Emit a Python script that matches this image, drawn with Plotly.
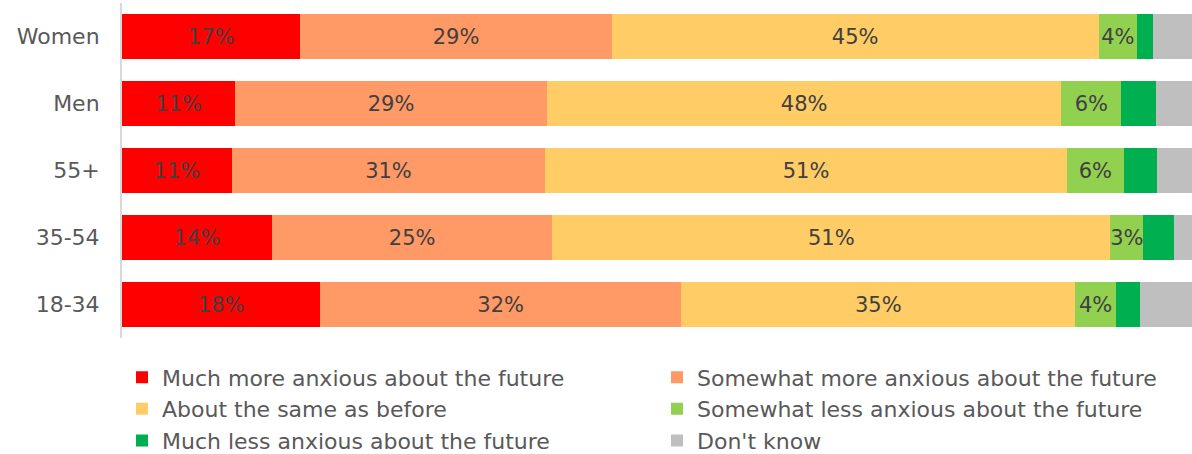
import plotly.graph_objects as go

categories = ["Women", "Men", "55+", "35-54", "18-34"]

series_names = [
    "Much more anxious about the future",
    "Somewhat more anxious about the future",
    "About the same as before",
    "Somewhat less anxious about the future",
    "Much less anxious about the future",
    "Don't know",
]

much_more = [16.6, 10.6, 10.8, 13.6, 17.7]
somewhat_more = [29.0, 29.1, 30.8, 25.4, 32.2]
same = [45.3, 48.1, 51.3, 50.6, 35.2]
somewhat_less = [3.6, 5.6, 5.6, 3.0, 3.6]
much_less = [1.5, 3.2, 3.3, 2.8, 2.2]
dont_know = [3.6, 3.4, 3.4, 1.6, 4.6]

series_values = [much_more, somewhat_more, same, somewhat_less, much_less, dont_know]
labelled = [True, True, True, True, False, False]
colors = ["#FF0000", "#FF9966", "#FFCC66", "#92D050", "#00B050", "#BFBFBF"]

FONT = "Century Gothic, DejaVu Sans, sans-serif"

fig = go.Figure()
for name, vals, col, lab in zip(series_names, series_values, colors, labelled):
    fig.add_trace(go.Bar(
        y=categories,
        x=vals,
        name=name,
        orientation="h",
        marker=dict(color=col, line=dict(width=0)),
        text=[f"{v:.0f}%" for v in vals] if lab else None,
        textposition="inside" if lab else "none",
        insidetextanchor="middle",
        textangle=0,
        constraintext="none",
        insidetextfont=dict(size=21, color="#404040", family=FONT),
        hoverinfo="skip",
    ))

fig.update_layout(
    width=1192,
    height=454,
    barmode="stack",
    barnorm="percent",
    bargap=0.328,
    margin=dict(l=122, r=0, t=3, b=116, autoexpand=False),
    paper_bgcolor="white",
    plot_bgcolor="white",
    font=dict(family=FONT, size=22, color="#595959"),
    xaxis=dict(range=[0, 100], visible=False, fixedrange=True),
    yaxis=dict(
        categoryorder="array",
        categoryarray=categories,
        autorange="reversed",
        showline=True,
        linecolor="#D9D9D9",
        linewidth=2,
        ticks="",
        ticklabelstandoff=16,
        tickfont=dict(size=22, color="#595959"),
        showgrid=False,
    ),
    legend=dict(
        orientation="h",
        x=0.0,
        xanchor="left",
        y=-0.055,
        yanchor="top",
        entrywidthmode="pixels",
        entrywidth=490,
        font=dict(size=22, color="#595959"),
        traceorder="normal",
        itemclick=False,
    ),
    showlegend=True,
)

fig.write_html("out.html")
